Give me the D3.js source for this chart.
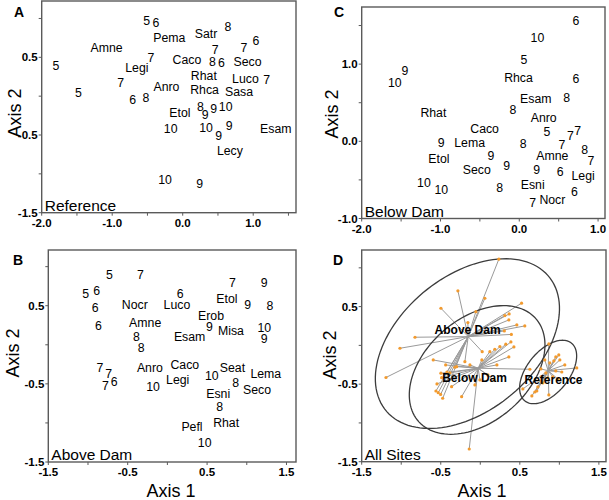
<!DOCTYPE html>
<html><head><meta charset="utf-8">
<script src="https://cdn.jsdelivr.net/npm/d3@7"></script>
<style>body{margin:0;background:#fff} svg{display:block} text{font-family:"Liberation Sans",Arial,sans-serif}</style>
</head><body><svg id="c" width="609" height="500"></svg>
<script>
// ---------- Panel A : Reference ----------
const refLabels = ["5","6","8","Pema","Satr","6","Amne","7","7","7","Caco","8","6","Seco","5","Legi","Rhat","Luco","7","7","Anro","Rhca","Sasa","5","6","8","8","9","9","10","Etol","10","10","9","9","Esam","Lecy","10","9"];
const refX = [-0.51,-0.38,0.64,-0.19,0.33,1.04,-1.08,-0.45,0.46,0.87,0.06,0.42,0.55,0.92,-1.80,-0.65,0.30,0.89,1.19,-0.88,-0.23,0.31,0.80,-1.48,-0.71,-0.52,0.25,0.32,0.44,0.61,-0.04,-0.17,0.33,0.66,0.51,1.32,0.67,-0.25,0.24];
const refY = [0.97,0.95,0.90,0.75,0.80,0.72,0.62,0.50,0.60,0.62,0.47,0.45,0.43,0.44,0.39,0.37,0.27,0.23,0.22,0.17,0.12,0.09,0.06,0.05,-0.04,-0.02,-0.14,-0.24,-0.16,-0.14,-0.21,-0.42,-0.41,-0.38,-0.51,-0.42,-0.70,-1.07,-1.13];

// ---------- Panel C : Below Dam ----------
const belLabels = ["6","10","5","9","10","Rhca","6","Esam","8","Rhat","8","Anro","Caco","5","7","7","9","Lema","8","7","8","9","Amne","7","Etol","9","Seco","9","6","Legi","10","10","8","Esni","6","7","Nocr"];
const belX = [0.72,0.23,0.06,-1.45,-1.58,-0.01,0.72,0.21,0.60,-1.09,-0.08,0.31,-0.44,0.35,0.65,0.74,-0.99,-0.63,0.05,0.54,0.83,-0.36,0.42,0.91,-1.02,-0.16,-0.54,0.22,0.52,0.81,-1.21,-0.99,-0.25,0.17,0.70,0.17,0.42];
const belY = [1.56,1.35,1.06,0.91,0.76,0.83,0.81,0.56,0.57,0.37,0.41,0.31,0.16,0.13,0.08,0.14,-0.02,-0.02,-0.03,-0.04,-0.11,-0.18,-0.18,-0.25,-0.23,-0.31,-0.36,-0.36,-0.39,-0.44,-0.54,-0.63,-0.60,-0.56,-0.65,-0.80,-0.76];

// ---------- Panel B : Above Dam ----------
const abvLabels = ["5","7","7","9","5","6","6","Etol","6","Nocr","Luco","9","8","Erob","Amne","6","9","Misa","10","8","Esam","9","8","Caco","7","7","Anro","Seat","Lema","6","7","Legi","10","8","10","Seco","Esni","8","Rhat","Pefl","10"];
const abvX = [-0.73,-0.34,0.82,1.22,-1.03,-0.89,0.16,0.75,-0.91,-0.41,0.12,1.01,1.29,0.55,-0.28,-0.87,0.53,0.80,1.22,-0.39,0.28,1.22,-0.33,0.22,-0.85,-0.74,-0.22,0.82,1.24,-0.67,-0.78,0.13,0.56,0.86,-0.18,1.13,0.64,0.66,0.74,0.31,0.47];
const abvY = [0.90,0.90,0.80,0.79,0.65,0.70,0.65,0.59,0.47,0.51,0.51,0.52,0.50,0.38,0.28,0.25,0.23,0.18,0.22,0.10,0.10,0.08,-0.03,-0.25,-0.29,-0.37,-0.29,-0.29,-0.37,-0.47,-0.52,-0.44,-0.40,-0.48,-0.54,-0.57,-0.62,-0.79,-1.00,-1.05,-1.25];

// ---------- Panel D : All Sites ----------
const groupNames = ["Above Dam","Below Dam","Reference"];
const centroidX = [-0.153,-0.027,0.858];
const centroidY = [0.113,-0.295,-0.326];
const allAboveX = [0.235,-0.283,-0.498,0.058,-0.056,0.522,0.311,0.361,0.462,0.563,0.304,0.393,-0.826,-1.016,-1.193,0.024,-0.195,-0.561,-0.532,-0.502,-0.476,-0.157,-0.321,0.365,-0.422];
const allAboveY = [1.112,0.703,0.479,0.608,0.435,0.544,0.384,0.328,0.264,0.251,0.186,0.141,0.105,-0.037,-0.414,-0.081,-0.210,-0.588,-0.610,-0.633,-0.682,0.294,-0.282,0.406,-0.343];
const allBelowX = [-0.595,-0.438,-0.299,-0.131,-0.498,-0.489,-0.363,-0.236,-0.140,0.121,0.184,0.248,0.323,0.387,0.627,0.361,0.096,0.172,-0.005,-0.068,-0.548,-0.384,0.210,0.425,0.020];
const allBelowY = [-0.188,-0.252,-0.274,-0.252,-0.359,-0.416,-0.532,-0.661,-1.336,-0.081,-0.050,-0.016,0.015,0.045,-0.308,-0.149,-0.381,-0.446,-0.446,-0.510,-0.497,-0.355,-0.252,-0.020,-0.188];
const allRefX = [0.867,0.993,0.955,0.930,0.816,0.879,1.069,1.220,0.766,0.955,1.031,0.829,0.778,0.917,0.766,0.791,0.728,0.715,0.690,0.652,0.867,0.538,0.980,0.854,1.006];
const allRefY = [0.019,-0.123,-0.149,-0.201,-0.188,-0.226,-0.252,-0.291,-0.304,-0.330,-0.343,-0.355,-0.407,-0.407,-0.459,-0.484,-0.536,-0.588,-0.601,-0.652,-0.639,-0.562,-0.433,-0.420,-0.188];
const ellCX = [-0.163,-0.040,0.858];
const ellCY = [0.023,-0.317,-0.343];
const ellA = [1.345,0.995,0.475];
const ellB = [0.863,0.659,0.268];
const ellAngle = [40.7,42.5,52];

// tick labels
const xLabA = ["-2.0","-1.0","0.0","1.0"], yLabA = ["0.5","-0.5","-1.5"];
const xLabC = ["-2.0","-1.0","0.0","1.0"], yLabC = ["1.0","0.0","-1.0"];
const xLabB = ["-1.5","-0.5","0.5","1.5"], yLabB = ["0.5","-0.5","-1.5"];
const xLabD = ["-1.5","-0.5","0.5","1.5"], yLabD = ["0.5","-0.5","-1.5"];

const svg = d3.select("#c");
const FRAME = "#5a5a5a";

function makePanel(o) {
  const x = d3.scaleLinear().domain(o.xd).range([o.l, o.r]);
  const y = d3.scaleLinear().domain(o.yd).range([o.b, o.t]);
  const g = svg.append("g");
  const xt = d3.range(Math.ceil(o.xd[0]*2-1e-9)/2, o.xd[1]+1e-9, 0.5);
  const yt = d3.range(Math.ceil(o.yd[0]*2-1e-9)/2, o.yd[1]+1e-9, 0.5);
  g.selectAll(null).data(xt).enter().append("line")
    .attr("x1", d => x(d)).attr("x2", d => x(d)).attr("y1", o.b).attr("y2", o.b + 3)
    .attr("stroke", FRAME).attr("stroke-width", 1);
  g.selectAll(null).data(yt).enter().append("line")
    .attr("y1", d => y(d)).attr("y2", d => y(d)).attr("x1", o.l - 3).attr("x2", o.l)
    .attr("stroke", FRAME).attr("stroke-width", 1);
  g.selectAll(null).data(o.xLab).enter().append("text")
    .attr("x", d => x(+d)).attr("y", o.b + 14).attr("text-anchor", "middle")
    .attr("font-size", 11.5).attr("font-weight", "bold").text(d => d);
  g.selectAll(null).data(o.yLab).enter().append("text")
    .attr("x", o.l - 4).attr("y", d => y(+d) + 4).attr("text-anchor", "end")
    .attr("font-size", 11.5).attr("font-weight", "bold").text(d => d);
  // panel letter
  g.append("text").attr("x", o.letterX).attr("y", o.letterY).attr("font-size", 14)
    .attr("font-weight", "bold").text(o.letter);
  // axis 2
  g.append("text").attr("transform", `translate(${o.ax2X},${o.ax2Y}) rotate(-90)`)
    .attr("text-anchor", "middle").attr("font-size", 18).text("Axis 2");
  if (o.ax1X) {
    g.append("text").attr("x", o.ax1X).attr("y", 497).attr("text-anchor", "middle")
      .attr("font-size", 18).text("Axis 1");
  }
  // panel name
  g.append("text").attr("x", o.l + 3).attr("y", o.nameY).attr("font-size", 15.5).text(o.name);
  o.x = x; o.y = y; o.g = g;
  return o;
}

function drawFrame(o) {
  svg.append("rect").attr("x", o.l).attr("y", o.t).attr("width", o.r - o.l).attr("height", o.b - o.t)
    .attr("fill", "none").attr("stroke", FRAME).attr("stroke-width", 1.4);
}

function textMarks(p, labels, xs, ys) {
  p.g.selectAll(null).data(labels).enter().append("text")
    .attr("x", (d, i) => p.x(xs[i])).attr("y", (d, i) => p.y(ys[i]))
    .attr("dy", "0.36em").attr("text-anchor", "middle").attr("font-size", 12.3)
    .attr("fill", "#000").text(d => d);
}

const pA = makePanel({l:41.7, r:296, t:1, b:212.7, xd:[-2.0,1.607], yd:[-1.5,1.225],
  xLab:xLabA, yLab:yLabA, letter:"A", letterX:14, letterY:17, ax2X:21, ax2Y:113, name:"Reference", nameY:211});
textMarks(pA, refLabels, refX, refY);
drawFrame(pA);

const pC = makePanel({l:361.7, r:605, t:7, b:218.5, xd:[-2.0,1.088], yd:[-1.0,1.74],
  xLab:xLabC, yLab:yLabC, letter:"C", letterX:334, letterY:17, ax2X:338, ax2Y:114, name:"Below Dam", nameY:216.5});
textMarks(pC, belLabels, belX, belY);
drawFrame(pC);

const pB = makePanel({l:48.3, r:296, t:250, b:462, xd:[-1.5,1.62], yd:[-1.5,1.213],
  xLab:xLabB, yLab:yLabB, letter:"B", letterX:13, letterY:265, ax2X:19, ax2Y:353, ax1X:171, name:"Above Dam", nameY:460});
textMarks(pB, abvLabels, abvX, abvY);
drawFrame(pB);

const pD = makePanel({l:361.7, r:606, t:250, b:461.7, xd:[-1.5,1.59], yd:[-1.5,1.23],
  xLab:xLabD, yLab:yLabD, letter:"D", letterX:333, letterY:265, ax2X:336, ax2Y:355, ax1X:482, name:"All Sites", nameY:460});

const groupsX = [allAboveX, allBelowX, allRefX];
const groupsY = [allAboveY, allBelowY, allRefY];
const gd = pD.g;
groupsX.forEach((xs, gi) => {
  gd.selectAll(null).data(xs).enter().append("line")
    .attr("x1", d => pD.x(d)).attr("y1", (d, i) => pD.y(groupsY[gi][i]))
    .attr("x2", pD.x(centroidX[gi])).attr("y2", pD.y(centroidY[gi]))
    .attr("stroke", "#9a9a9a").attr("stroke-width", 1);
});
const ellLine = d3.line().curve(d3.curveLinearClosed);
ellCX.forEach((cx, i) => {
  const th = ellAngle[i] * Math.PI / 180;
  const pts = d3.range(0, 360, 3).map(deg => {
    const t = deg * Math.PI / 180;
    const dx = ellA[i] * Math.cos(t), dy = ellB[i] * Math.sin(t);
    return [pD.x(cx + dx * Math.cos(th) - dy * Math.sin(th)), pD.y(ellCY[i] + dx * Math.sin(th) + dy * Math.cos(th))];
  });
  gd.append("path").attr("d", ellLine(pts)).attr("fill", "none").attr("stroke", "#3c3c3c").attr("stroke-width", 1.3);
});
groupsX.forEach((xs, gi) => {
  gd.selectAll(null).data(xs).enter().append("circle")
    .attr("cx", d => pD.x(d)).attr("cy", (d, i) => pD.y(groupsY[gi][i]))
    .attr("r", 1.6).attr("fill", "#f29a2e");
});
const labOff = [[-0.6,-6.7],[-3.6,9],[5.4,8.6]];
gd.selectAll(null).data(groupNames).enter().append("text")
  .attr("x", (d, i) => pD.x(centroidX[i]) + labOff[i][0])
  .attr("y", (d, i) => pD.y(centroidY[i]) + labOff[i][1])
  .attr("dy", "0.36em").attr("text-anchor", "middle").attr("font-size", 12)
  .attr("font-weight", "bold").text(d => d);
drawFrame(pD);
</script></body></html>
